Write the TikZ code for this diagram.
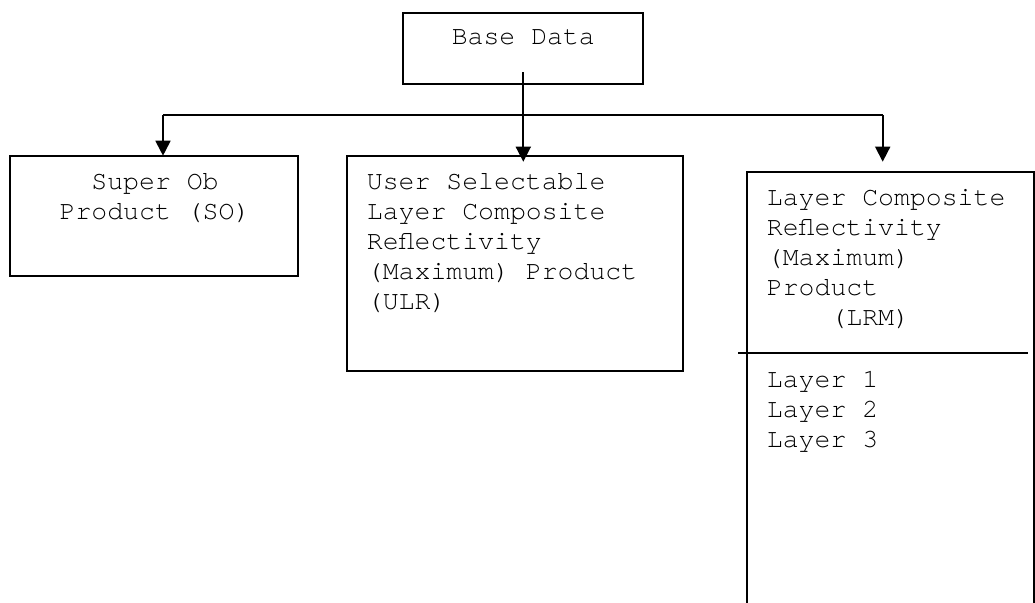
\documentclass[tikz,border=0pt]{standalone}
\usepackage{fontspec}
\setmonofont{TeX Gyre Cursor}
\usetikzlibrary{arrows.meta}
\begin{document}
\begin{tikzpicture}[x=1pt,y=-1pt,line width=1.8pt,
  box/.style={draw,rectangle,inner sep=0pt,outer sep=0pt,anchor=north west},
  txt/.style={font=\ttfamily\fontsize{26.5}{30}\selectfont,inner sep=0pt},
  arr/.style={-{Triangle[length=15pt,width=15pt]}}]
\useasboundingbox (0,0) rectangle (1035,602);
% boxes
\node[box,minimum width=240.3pt,minimum height=71.3pt] (base) at (402.7,12.7) {};
\node[box,minimum width=288pt,minimum height=120pt] (so) at (10,155.7) {};
\node[box,minimum width=336pt,minimum height=215pt] (ulr) at (346.7,155.7) {};
\node[box,minimum width=287pt,minimum height=440pt] (lrm) at (746.7,171.7) {};
\draw (738.3,353.3) -- (1027.7,353.3);
% texts (anchor = baseline of the last line)
\node[txt,anchor=base] (basetxt) at (523.3,45) {Base Data};
\node[txt,anchor=base,align=center] (sotxt) at (155,219) {Super Ob\\Product (SO)};
\node[txt,anchor=base west,align=left] (ulrtxt) at (366,309) {User Selectable\\Layer Composite\\Reflectivity\\(Maximum) Product\\(ULR)};
\node[txt,anchor=base west,align=left] (lrmtxt) at (766,325) {Layer Composite\\Reflectivity\\(Maximum)\\Product\\\phantom{xxxx}(LRM)};
\node[txt,anchor=base west,align=left] (laytxt) at (766,447) {Layer 1\\Layer 2\\Layer 3};
% connectors
\coordinate (bstart) at (523.3,72);
\coordinate (jmid) at (523.3,115);
\coordinate (jleft) at (163,115);
\coordinate (jright) at (882.7,115);
\coordinate (tleft) at (163,155.7);
\coordinate (tmid) at (523.3,161.7);
\coordinate (tright) at (882.7,161.7);
\draw (jleft) -- (jright);
\draw[arr] (bstart) -- (tmid);
\draw[arr] (jleft) -- (tleft);
\draw[arr] (jright) -- (tright);
\end{tikzpicture}
\end{document}
